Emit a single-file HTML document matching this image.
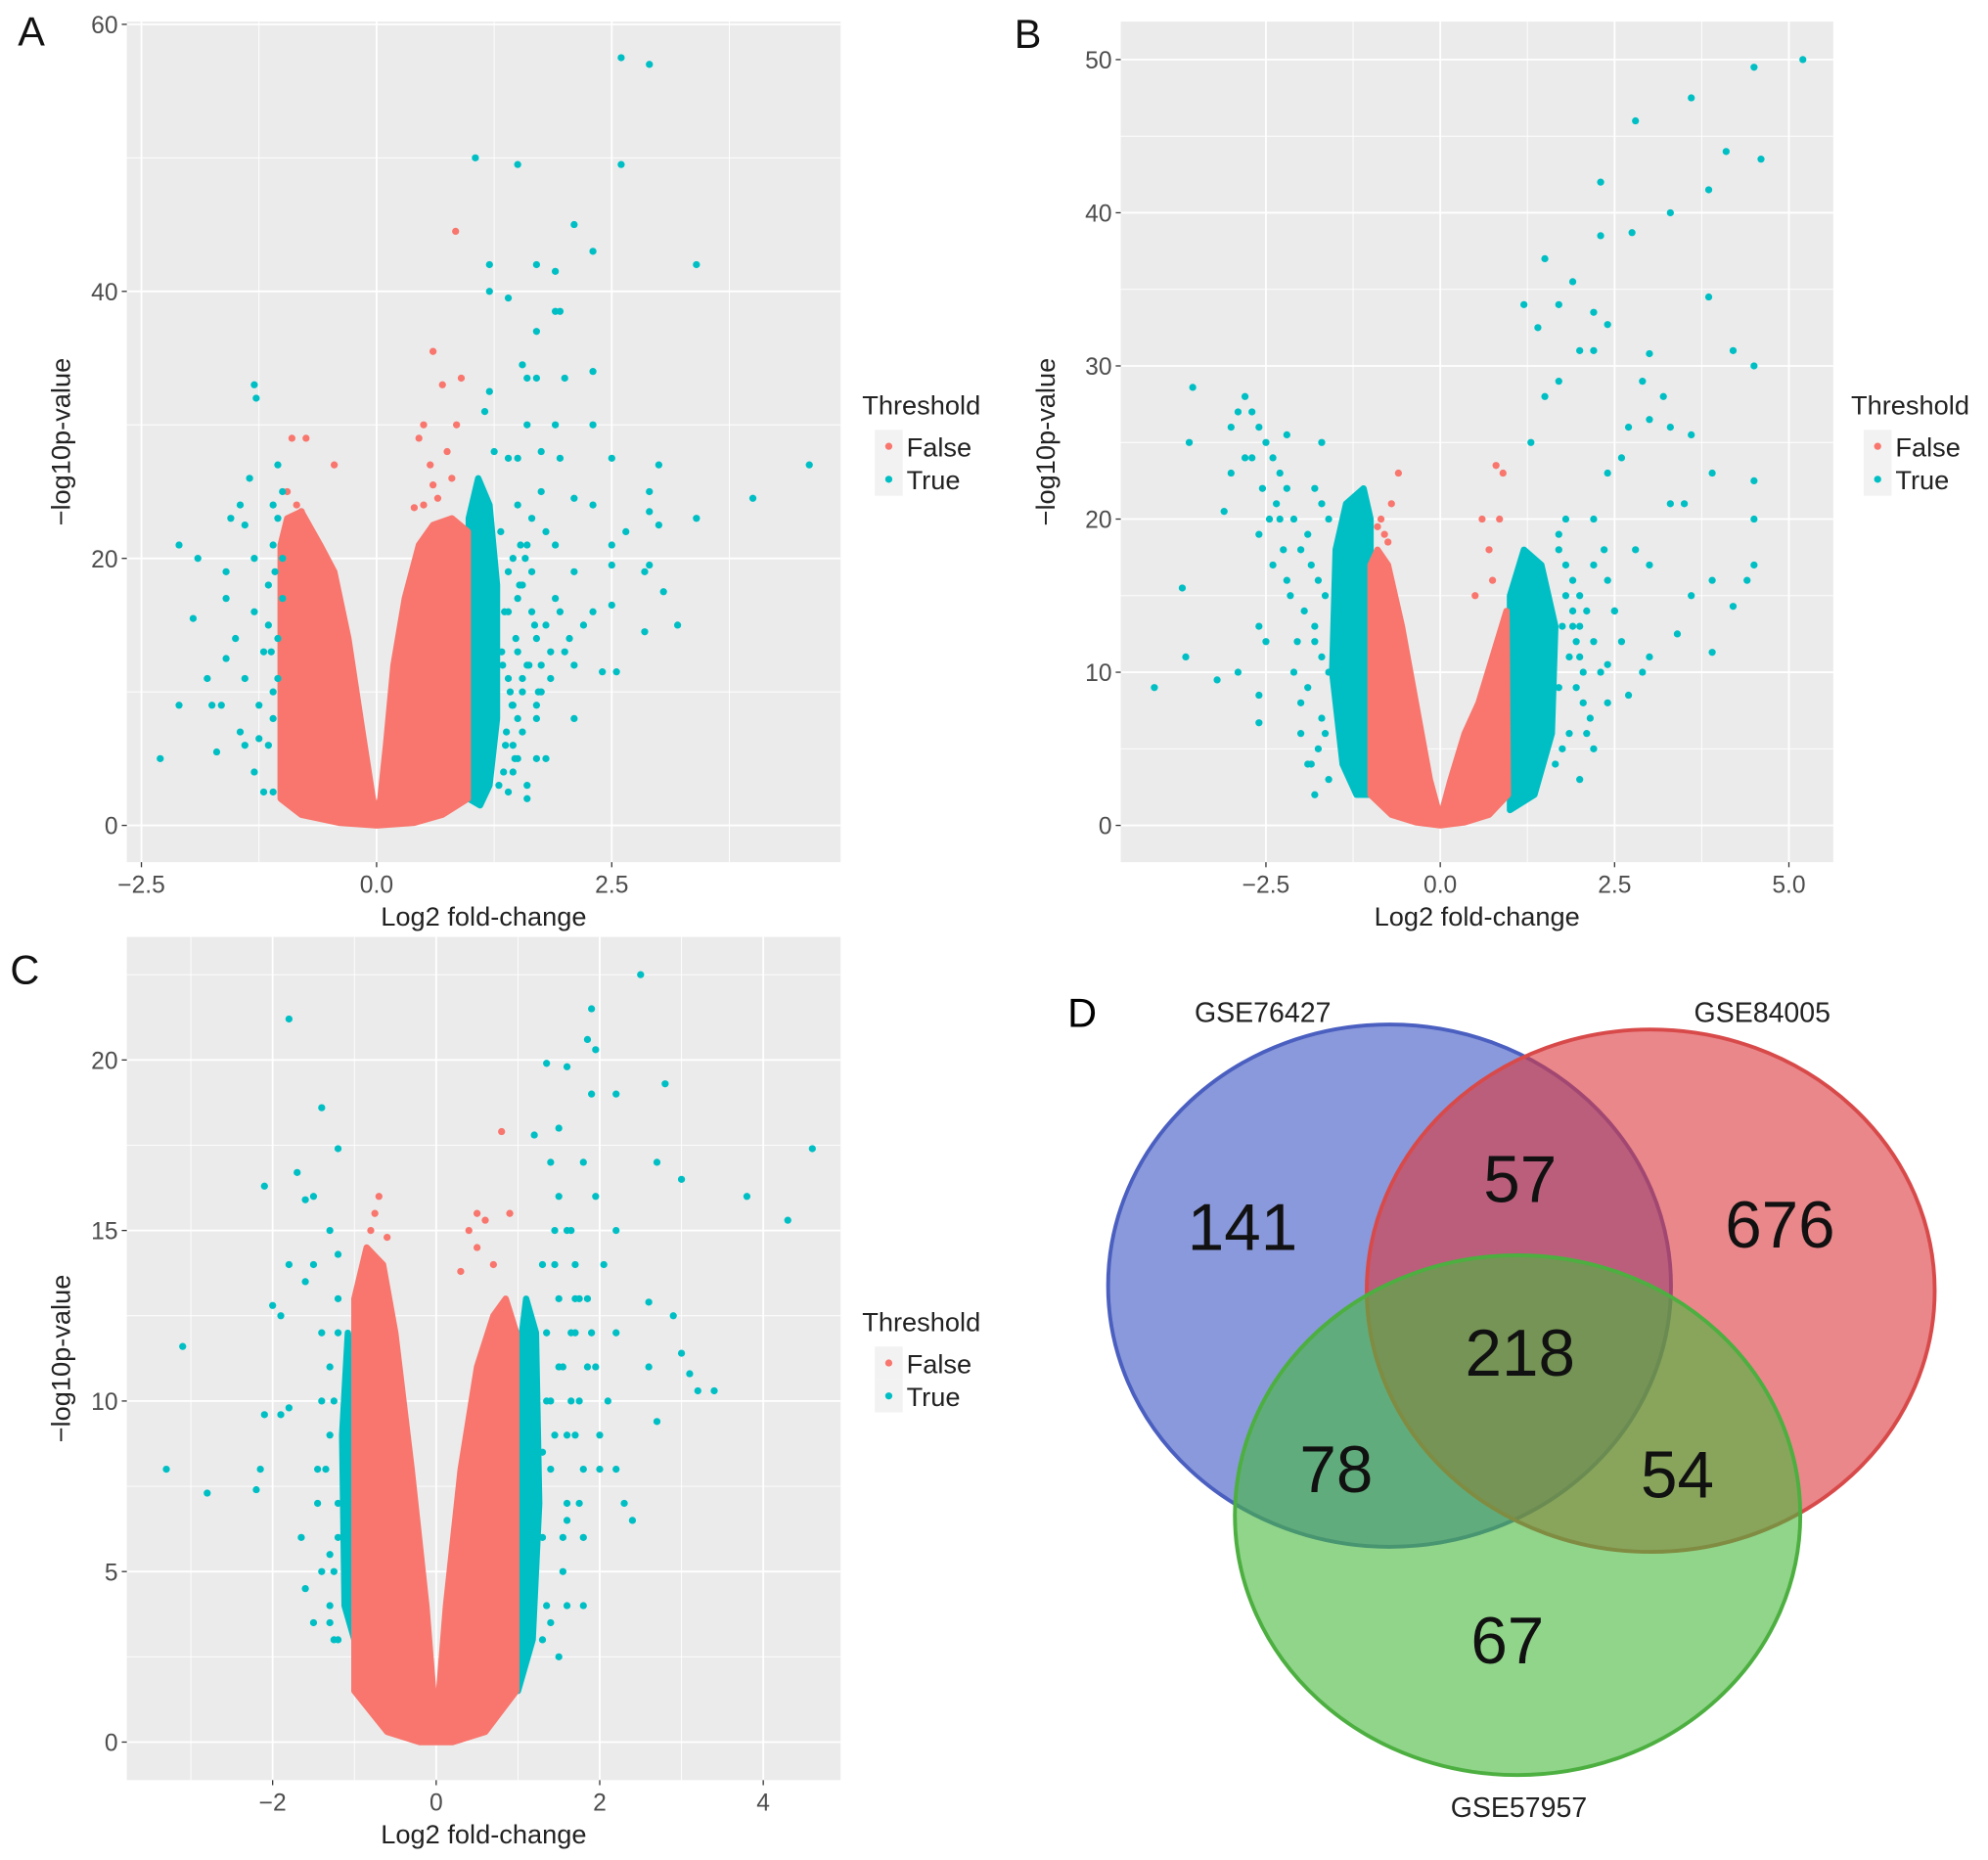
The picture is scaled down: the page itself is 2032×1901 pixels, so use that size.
<!DOCTYPE html>
<html><head><meta charset="utf-8">
<style>
html,body{margin:0;padding:0;background:#fff;}
svg{display:block;font-family:"Liberation Sans",Arial,sans-serif;}
</style></head>
<body>
<svg id="fig" width="2032" height="1901" viewBox="0 0 1568 1467" xmlns="http://www.w3.org/2000/svg">
<g id="gA"></g>
<g id="gB"></g>
<g id="gC"></g>
<g id="gD">
  <text x="842" y="810" font-size="32">D</text>
  <ellipse cx="1096" cy="1014" rx="222" ry="206" fill="rgba(60,85,195,0.6)" stroke="#4a5fc0" stroke-width="3"/>
  <ellipse cx="1302" cy="1018" rx="224" ry="206" fill="rgba(220,55,60,0.6)" stroke="#d84a4a" stroke-width="3"/>
  <ellipse cx="1197" cy="1195" rx="223" ry="205" fill="rgba(70,185,60,0.6)" stroke="#4caf40" stroke-width="3"/>
  <g font-size="22" fill="#222" text-anchor="middle">
    <text x="996" y="806">GSE76427</text>
    <text x="1390" y="806">GSE84005</text>
    <text x="1198" y="1433">GSE57957</text>
  </g>
  <g font-size="52" fill="#111" text-anchor="middle">
    <text x="980" y="986">141</text>
    <text x="1199" y="948">57</text>
    <text x="1404" y="984">676</text>
    <text x="1199" y="1085">218</text>
    <text x="1054" y="1177">78</text>
    <text x="1323" y="1181">54</text>
    <text x="1189" y="1312">67</text>
  </g>
</g>
</svg>
<script>
// ---------- Panel A data ----------
const aXTicks = [-2.5, 0.0, 2.5];
const aXTickLabels = ["\u22122.5", "0.0", "2.5"];
const aYTicks = [0, 20, 40, 60];
const aRedMass = [[-1.02,2],[-1.02,21],[-0.95,23],[-0.8,23.5],[-0.6,21],[-0.45,19],[-0.3,14],[-0.15,7],[-0.04,2],[0,0.8],[0.04,2],[0.1,6],[0.18,12],[0.3,17],[0.45,21],[0.6,22.5],[0.8,23],[0.97,22],[0.97,2],[0.7,0.8],[0.4,0.2],[0,0],[-0.4,0.2],[-0.8,0.8]];
const aRedX = [-0.9,-0.75,-0.45,-0.95,0.6,0.5,0.7,0.9,0.85,0.57,0.45,0.75,0.84,0.6,0.8,0.5,-0.85,-0.8,0.4,0.65];
const aRedY = [29,29,27,25,35.5,30,33,33.5,30,27,29,28,44.5,25.5,26,24,24,23.5,23.8,24.5];
const aTealMass = [[0.98,2],[0.98,23],[1.08,26],[1.2,24],[1.28,18],[1.28,8],[1.2,3],[1.1,1.5]];
const aTealX = [-2.3,-2.1,-2.1,-1.9,-1.95,-1.75,-1.7,-1.6,-1.6,-1.55,-1.5,-1.45,-1.4,-1.3,-1.28,-1.35,-1.3,-1.25,-1.25,-1.2,-1.1,-1.05,-1.1,-1.0,-1.15,-1.2,-1.6,-1.65,-1.45,-1.4,-1.3,-1.1,-1.05,-1.0,-1.15,-1.0,-1.3,-1.4,-1.8,-1.1,-1.05,-1.15,-1.1,-1.08,-1.12,-1.05,
 2.6,2.9,1.05,1.5,2.6,2.1,2.3,3.4,1.2,1.7,1.9,1.2,1.4,1.95,1.9,1.7,1.55,1.6,1.7,2.0,2.3,1.2,2.3,1.15,1.6,1.9,1.25,1.4,1.5,1.75,1.95,2.5,3.0,4.6,4.0,2.9,3.4,2.9,3.0,2.5,2.65,2.3,2.1,2.5,2.1,2.85,2.9,3.05,2.5,3.2,2.85,2.3,2.2,2.4,2.55,2.1,2.1,1.7,1.8,1.7,1.5,1.3,1.6,1.4,1.1,
 1.45,1.55,1.65,1.8,1.5,1.6,1.75,1.45,1.85,2.0,1.55,1.7,1.4,1.9,1.6,1.5,1.8,1.65,1.45,2.05,1.75,1.55,1.9,1.4,1.65,1.5,1.85,1.7,1.95,1.45,1.6,1.75,
 1.35,1.38,1.42,1.33,1.36,1.4,1.32,1.37,1.44,1.34,1.5,1.55,1.48,1.52,1.58,1.62,1.68,1.72,1.47,1.53];
const aTealY = [5,21,9,20,15.5,9,5.5,19,17,23,14,24,22.5,33,32,26,20,9,6.5,2.5,2.5,27,24,20,15,13,12.5,9,7,6,4,8,11,17,18,25,16,11,11,21,14,6,10,19,13,23,
 57.5,57,50,49.5,49.5,45,43,42,42,42,41.5,40,39.5,38.5,38.5,37,34.5,33.5,33.5,33.5,34,32.5,30,31,30,30,28,27.5,27.5,28,27.5,27.5,27,27,24.5,25,23,23.5,22.5,21,22,24,24.5,19.5,19,19,19.5,17.5,16.5,15,14.5,16,15,11.5,11.5,12,8,8,5,5,5,3,2,2.5,2.5,
 20,18,16,15,13,12,10,9,11,13,7,14,16,17,21,24,22,19,6,14,12,10,21,11,23,17,13,9,16,4,3,25,
 4,7,10,13,16,19,22,6,9,12,8,11,14,18,20,12,15,10,5,21];

// ---------- Panel B data ----------
const bXTicks = [-2.5, 0.0, 2.5, 5.0];
const bXTickLabels = ["\u22122.5", "0.0", "2.5", "5.0"];
const bYTicks = [0, 10, 20, 30, 40, 50];
const bRedMass = [[-1.0,2],[-1.0,17],[-0.9,18],[-0.75,17],[-0.55,13],[-0.35,8],[-0.15,3],[-0.02,0.8],[0.02,0.8],[0.15,3],[0.35,6],[0.55,8],[0.75,11],[0.95,14],[0.97,2],[0.7,0.7],[0.35,0.2],[0,0],[-0.35,0.2],[-0.7,0.7]];
const bRedX = [-0.6,-0.7,-0.8,0.8,0.9,0.6,0.7,0.5,-0.85,-0.9,0.85,0.75,-0.75];
const bRedY = [23,21,19,23.5,23,20,18,15,20,19.5,20,16,18.5];
const bTealMass = [[-1.0,2],[-1.0,20],[-1.1,22],[-1.35,21],[-1.5,18],[-1.55,10],[-1.4,4],[-1.2,2]];
const bTealMass2 = [[1.0,1],[1.0,15],[1.2,18],[1.45,17],[1.65,13],[1.6,6],[1.35,2]];
const bTealX = [5.2,4.5,3.6,2.8,4.1,4.6,2.3,3.85,3.3,2.3,2.75,1.5,1.9,3.85,1.2,1.7,2.2,2.4,1.4,2.0,3.0,4.2,4.5,1.7,2.2,2.9,3.2,3.6,3.3,2.6,2.4,3.9,4.5,3.3,3.5,4.5,4.4,3.9,4.5,3.6,4.2,3.4,3.9,3.0,2.9,2.4,2.7,2.2,2.0,2.8,3.0,1.5,1.3,2.7,3.0,2.5,2.6,2.2,2.4,
 -4.1,-3.7,-3.6,-3.55,-3.65,-3.2,-3.1,-2.9,-2.6,-2.6,-2.6,-2.5,-2.0,-3.0,-3.0,-2.2,-2.7,-2.3,-1.7,-2.9,-2.8,-1.9,-1.8,
 -1.6,-1.7,-1.8,-1.9,-2.0,-2.1,-2.2,-2.3,-2.4,-2.5,-2.6,-2.7,-1.65,-1.75,-1.85,-1.95,-2.05,-2.15,-2.25,-2.35,-2.45,-2.55,-1.6,-1.7,-1.8,-1.9,-2.0,-2.1,-1.65,-1.75,-1.85,-2.2,-2.4,-2.6,-2.8,-1.6,-1.7,-1.8,
 1.7,1.8,1.9,2.0,2.1,2.2,2.3,1.75,1.85,1.95,2.05,2.15,1.7,1.8,1.9,2.0,2.1,2.2,1.65,1.75,1.85,1.95,2.05,1.7,1.8,1.9,2.0,2.4,2.5,2.35];
const bTealY = [50,49.5,47.5,46,44,43.5,42,41.5,40,38.5,38.7,37,35.5,34.5,34,34,33.5,32.7,32.5,31,30.8,31,30,29,31,29,28,25.5,26,24,23,23,22.5,21,21,20,16,16,17,15,14.3,12.5,11.3,11,10,10.5,8.5,17,13,18,17,28,25,26,26.5,14,12,20,8,
 9,15.5,25,28.6,11,9.5,20.5,10,6.7,8.5,13,12,6,23,26,25.5,24,20,25,27,28,4,2,
 20,21,22,19,18,20,22,23,24,25,26,27,15,16,17,14,12,15,18,21,20,22,10,11,12,9,8,10,6,5,4,16,17,19,24,3,7,13,
 18,17,16,15,14,12,10,13,11,9,8,7,19,20,14,11,6,5,4,5,6,12,10,9,15,13,3,16,14,18];

// ---------- Panel C data ----------
const cXTicks = [-2, 0, 2, 4];
const cXTickLabels = ["\u22122", "0", "2", "4"];
const cYTicks = [0, 5, 10, 15, 20];
const cRedMass = [[-1.0,1.5],[-1.0,13],[-0.85,14.5],[-0.65,14],[-0.5,12],[-0.3,8],[-0.12,4],[-0.02,1],[0.02,1],[0.12,4],[0.3,8],[0.5,11],[0.7,12.5],[0.85,13],[0.98,12],[0.98,1.5],[0.6,0.3],[0.2,0],[-0.2,0],[-0.6,0.3]];
const cRedX = [-0.7,-0.75,0.8,0.5,0.4,0.6,0.9,0.7,0.5,-0.8,-0.6,0.3];
const cRedY = [16,15.5,17.9,15.5,15,15.3,15.5,14,14.5,15,14.8,13.8];
const cTealMass = [[1.0,1.5],[1.0,11],[1.1,13],[1.22,12],[1.26,7],[1.18,3]];
const cTealMass2 = [[-1.0,3],[-1.0,11],[-1.08,12],[-1.15,9],[-1.12,4]];
const cTealX = [2.5,1.9,1.85,1.95,1.35,1.6,2.8,2.2,1.9,1.2,1.5,4.6,2.7,1.8,3.0,3.8,4.3,2.2,2.6,2.9,3.0,3.1,3.2,3.4,2.6,2.7,2.2,2.3,2.4,1.8,2.0,2.1,2.2,1.6,1.75,2.05,1.95,1.7,
 -3.3,-3.1,-2.8,-2.1,-1.8,-1.4,-1.2,-1.6,-1.5,-1.7,-2.0,-1.9,-2.1,-1.9,-1.8,-2.2,-2.15,-1.3,-1.2,-1.8,-1.6,-1.4,-1.65,-1.6,-1.3,-1.2,-1.5,-1.3,-1.2,-1.4,-1.5,-1.45,
 1.3,1.35,1.4,1.45,1.5,1.55,1.6,1.65,1.7,1.75,1.8,1.85,1.3,1.4,1.5,1.6,1.7,1.8,1.35,1.45,1.55,1.65,1.75,1.3,1.4,1.5,1.6,1.7,1.35,1.45,1.55,1.65,1.9,2.0,1.95,1.85,1.4,1.5,1.6,1.3,
 -1.2,-1.25,-1.3,-1.35,-1.2,-1.25,-1.3,-1.4,-1.45,-1.2,-1.3,-1.25];
const cTealY = [22.5,21.5,20.6,20.3,19.9,19.8,19.3,19,19,17.8,18,17.4,17,17,16.5,16,15.3,15,12.9,12.5,11.4,10.8,10.3,10.3,11,9.4,8,7,6.5,4,8,10,12,15,13,14,16,9,
 8,11.6,7.3,16.3,21.2,18.6,17.4,15.9,16,16.7,12.8,12.5,9.6,9.6,9.8,7.4,8,15,14.3,14,13.5,12,6,4.5,3.5,3,3.5,5.5,7,10,14,8,
 14,12,10,15,13,11,9,12,14,10,8,11,6,8,16,7,13,6,4,9,5,10,7,3,3.5,11,4,12,10,14,6,15,12,9,11,13,17,2.5,6.5,8.5,
 12,10,9,8,6,5,4,5,7,13,11,3];

const NS = "http://www.w3.org/2000/svg";
const RED = "#F8766D", TEAL = "#00BFC4";
function mk(tag, attrs, parent){ const e=document.createElementNS(NS,tag); for(const k in attrs) e.setAttribute(k,attrs[k]); parent.appendChild(e); return e; }

function panel(g, cfg){
  const sx = v => cfg.x0 + v*cfg.kx;
  const sy = v => cfg.y0 - v*cfg.ky;
  const bg = mk("rect",{x:cfg.L,y:cfg.T,width:cfg.R-cfg.L,height:cfg.B-cfg.T,fill:"#EBEBEB"},g);
  
  
  cfg.xMinor.forEach(v=>{ const l=mk("line",{x1:sx(v),x2:sx(v),y1:cfg.T,y2:cfg.B,stroke:"#fff","stroke-width":0.7},g);
    
     });
  cfg.yMinor.forEach(v=>{ const l=mk("line",{x1:cfg.L,x2:cfg.R,y1:sy(v),y2:sy(v),stroke:"#fff","stroke-width":0.7},g);
    
     });
  cfg.xTicks.forEach((v,i)=>{
    const l=mk("line",{x1:sx(v),x2:sx(v),y1:cfg.T,y2:cfg.B,stroke:"#fff","stroke-width":1.4},g);
    
    
    const tk=mk("line",{x1:sx(v),x2:sx(v),y1:cfg.B,y2:cfg.B+4,stroke:"#333","stroke-width":1},g);
    
    
    const t=mk("text",{x:sx(v),y:cfg.B+24,"font-size":19,fill:"#4d4d4d","text-anchor":"middle"},g);
    t.textContent=cfg.xLabels[i];
    
    
  });
  cfg.yTicks.forEach(v=>{
    const l=mk("line",{x1:cfg.L,x2:cfg.R,y1:sy(v),y2:sy(v),stroke:"#fff","stroke-width":1.4},g);
    
    
    const tk=mk("line",{x1:cfg.L-4,x2:cfg.L,y1:sy(v),y2:sy(v),stroke:"#333","stroke-width":1},g);
    
    
    const t=mk("text",{x:cfg.L-7,y:sy(v)+7,"font-size":19,fill:"#4d4d4d","text-anchor":"end"},g);
    t.textContent=String(v);
    
    
  });
  const poly = (pts,col,name)=>{ const p=mk("polygon",{points:pts.map(q=>sx(q[0])+","+sy(q[1])).join(" "),fill:col,stroke:col,"stroke-width":5,"stroke-linejoin":"round"},g);
    
     };
  cfg.tealMass.forEach(m=>poly(m,TEAL,'dense-true-points'));
  poly(cfg.redMass,RED,'dense-false-points');
  cfg.redX.forEach((v,i)=>{ const c=mk("circle",{cx:sx(v),cy:sy(cfg.redY[i]),r:2.8,fill:RED},g);
    
     });
  cfg.tealX.forEach((v,i)=>{ const c=mk("circle",{cx:sx(v),cy:sy(cfg.tealY[i]),r:2.8,fill:TEAL},g);
    
     });
  const xt=mk("text",{x:(cfg.L+cfg.R)/2,y:cfg.B+50,"font-size":21,fill:"#222","text-anchor":"middle"},g);
  xt.textContent="Log2 fold-change";
  
  
  const yc=(cfg.T+cfg.B)/2;
  const yt=mk("text",{x:cfg.ytx,y:yc,"font-size":21,fill:"#222","text-anchor":"middle",transform:`rotate(-90 ${cfg.ytx} ${yc})`},g);
  yt.textContent="\u2212log10p-value";
  
  
  const pl=mk("text",{x:cfg.lab[0],y:cfg.lab[1],"font-size":32,fill:"#111"},g);
  pl.textContent=cfg.label;
  
  
  const lx=cfg.leg[0], ly=cfg.leg[1];
  const lt=mk("text",{x:lx,y:ly,"font-size":21,fill:"#222"},g);
  lt.textContent="Threshold";
  
  
  [["False",RED],["True",TEAL]].forEach((e,i)=>{
    const by=ly+12+i*26;
    const r=mk("rect",{x:lx+10,y:by,width:22,height:26,fill:"#F2F2F2"},g);
    
    
    const c=mk("circle",{cx:lx+21,cy:by+13,r:2.8,fill:e[1]},g);
    
    
    const t=mk("text",{x:lx+35,y:by+21,"font-size":21,fill:"#222"},g);
    t.textContent=e[0];
    
    
  });
}

panel(document.getElementById("gA"),{L:100,R:663,T:17,B:680,x0:297,kx:74.2,y0:651,ky:10.53,
  xTicks:aXTicks,xLabels:aXTickLabels,yTicks:aYTicks,xMinor:[-1.25,1.25,3.75],yMinor:[10,30,50],
  redMass:aRedMass,redX:aRedX,redY:aRedY,tealMass:[aTealMass],tealX:aTealX,tealY:aTealY,
  ytx:55,label:"A",lab:[14,36],leg:[680,327]});
panel(document.getElementById("gB"),{L:884,R:1446,T:17,B:680,x0:1136,kx:55,y0:651,ky:12.08,
  xTicks:bXTicks,xLabels:bXTickLabels,yTicks:bYTicks,xMinor:[-1.25,1.25,3.75],yMinor:[5,15,25,35,45],
  redMass:bRedMass,redX:bRedX,redY:bRedY,tealMass:[bTealMass,bTealMass2],tealX:bTealX,tealY:bTealY,
  ytx:832,label:"B",lab:[800,38],leg:[1460,327]});
panel(document.getElementById("gC"),{L:100,R:663,T:739,B:1404,x0:344,kx:64.5,y0:1374,ky:26.9,
  xTicks:cXTicks,xLabels:cXTickLabels,yTicks:cYTicks,xMinor:[-3,-1,1,3],yMinor:[2.5,7.5,12.5,17.5,22.5],
  redMass:cRedMass,redX:cRedX,redY:cRedY,tealMass:[cTealMass,cTealMass2],tealX:cTealX,tealY:cTealY,
  ytx:55,label:"C",lab:[8,776],leg:[680,1050]});
</script>
</body></html>
